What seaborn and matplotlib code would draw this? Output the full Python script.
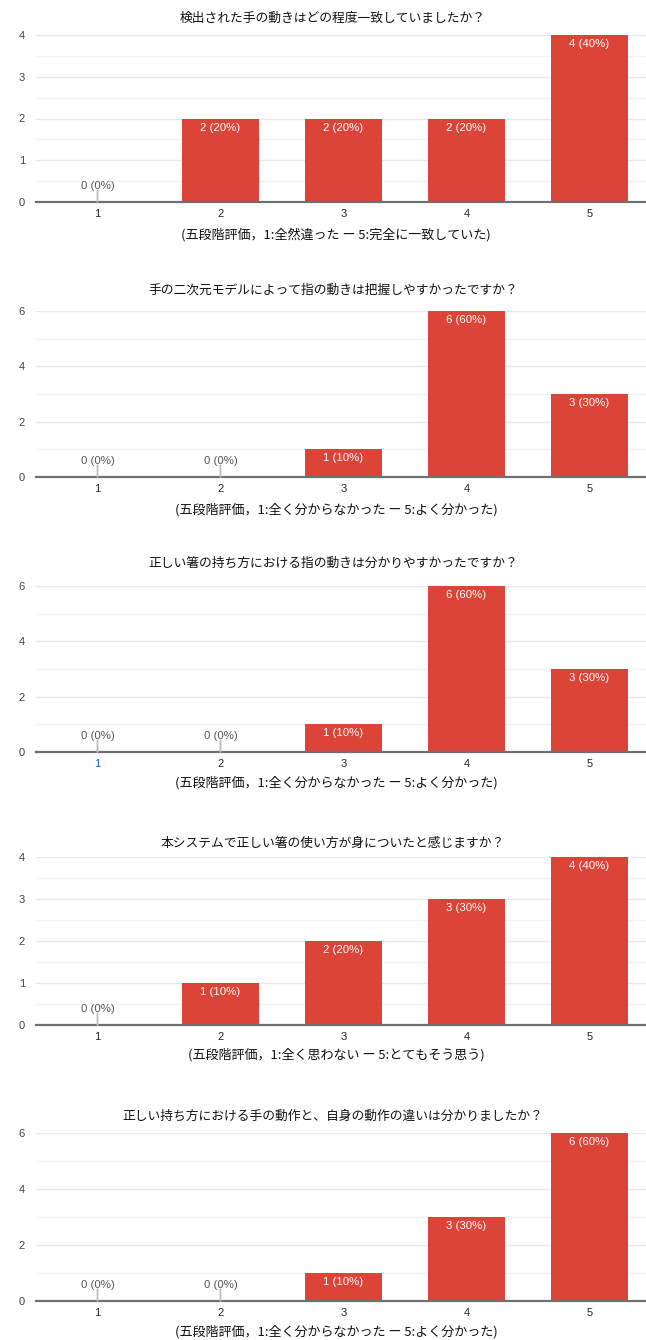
import matplotlib
matplotlib.use("Agg")
import matplotlib.pyplot as plt
from matplotlib.ticker import MultipleLocator
import seaborn as sns
import pandas as pd

sns.set_theme(style="white")
plt.rcParams["font.family"] = ["Liberation Sans", "Noto Sans CJK JP", "DejaVu Sans"]

# Survey responses (10 respondents), five-point scale
ratings = ["1", "2", "3", "4", "5"]

q1_counts = [0, 2, 2, 2, 4]
q2_counts = [0, 0, 1, 6, 3]
q3_counts = [0, 0, 1, 6, 3]
q4_counts = [0, 1, 2, 3, 4]
q5_counts = [0, 0, 1, 3, 6]

titles = [
    "検出された手の動きはどの程度一致していましたか？",
    "手の二次元モデルによって指の動きは把握しやすかったですか？",
    "正しい箸の持ち方における指の動きは分かりやすかったですか？",
    "本システムで正しい箸の使い方が身についたと感じますか？",
    "正しい持ち方における手の動作と、自身の動作の違いは分かりましたか？",
]
scale_notes = [
    "(五段階評価，1:全然違った ー 5:完全に一致していた)",
    "(五段階評価，1:全く分からなかった ー 5:よく分かった)",
    "(五段階評価，1:全く分からなかった ー 5:よく分かった)",
    "(五段階評価，1:全く思わない ー 5:とてもそう思う)",
    "(五段階評価，1:全く分からなかった ー 5:よく分かった)",
]
y_max = [4, 6, 6, 4, 6]
y_step = [1, 2, 2, 1, 2]

all_counts = [q1_counts, q2_counts, q3_counts, q4_counts, q5_counts]

W, H = 646, 1340
fig = plt.figure(figsize=(W / 100, H / 100), dpi=100)
fig.patch.set_facecolor("white")

# panel layout in pixels: (top, bottom, title_y, note_y)
panels = [
    (35, 202, 18, 235),
    (311, 477, 290, 510),
    (586, 752, 563, 783),
    (857, 1025, 843, 1055),
    (1133, 1301, 1116, 1332),
]
left_px, right_px = 36, 651

bar_color = "#db4437"
jp = ["Noto Sans CJK JP", "DejaVu Sans"]

for i, (counts, (top, bot, ty, ny)) in enumerate(zip(all_counts, panels)):
    ax = fig.add_axes([left_px / W, 1 - bot / H, (right_px - left_px) / W, (bot - top) / H])
    df = pd.DataFrame({"rating": ratings, "count": counts})
    sns.barplot(data=df, x="rating", y="count", color=bar_color, width=0.62,
                saturation=1, ax=ax, edgecolor="none")
    ax.set_xlim(-0.5, 4.5)
    ax.set_ylim(0, y_max[i])
    ax.yaxis.set_major_locator(MultipleLocator(y_step[i]))
    ax.yaxis.set_minor_locator(MultipleLocator(y_step[i] / 2))
    ax.grid(which="major", axis="y", color="#e9e9e9", linewidth=1.0)
    ax.grid(which="minor", axis="y", color="#f4f4f4", linewidth=1.0)
    ax.set_axisbelow(True)
    for s in ["top", "right", "left"]:
        ax.spines[s].set_visible(False)
    ax.spines["bottom"].set_color("#6f6f6f")
    ax.spines["bottom"].set_linewidth(1.6)
    ax.set_xlabel("")
    ax.set_ylabel("")
    ax.tick_params(axis="y", length=0, pad=8, labelsize=8, labelcolor="#444444")
    ax.tick_params(axis="x", length=0, pad=5, labelsize=8, labelcolor="#222222")
    for lbl in ax.get_yticklabels():
        lbl.set_horizontalalignment("right")
    if i == 2:
        ax.get_xticklabels()[0].set_color("#1a5fd0")

    total = sum(counts)
    for xpos, c in enumerate(counts):
        txt = f"{c} ({round(100 * c / total)}%)"
        if c == 0:
            ax.annotate("", xy=(xpos, 0), xytext=(0, 8.5), textcoords="offset points",
                        arrowprops=dict(arrowstyle="-", color="#bdbdbd", lw=1.3,
                                        shrinkA=0, shrinkB=0))
            ax.annotate(txt, xy=(xpos, 0), xytext=(0, 8), textcoords="offset points",
                        ha="center", va="bottom", fontsize=8.2, color="#555555")
        else:
            ax.annotate(txt, xy=(xpos, c), xytext=(0, -3), textcoords="offset points",
                        ha="center", va="top", fontsize=8.2, color="white")

    fig.text(333 / W, 1 - ty / H, titles[i], ha="center", va="center",
             fontsize=9.2, color="#111111", family=jp)
    fig.text(336 / W, 1 - ny / H, scale_notes[i], ha="center", va="center",
             fontsize=9.4, color="#111111", family=jp)

fig.savefig("out.png", dpi=100, facecolor="white")
